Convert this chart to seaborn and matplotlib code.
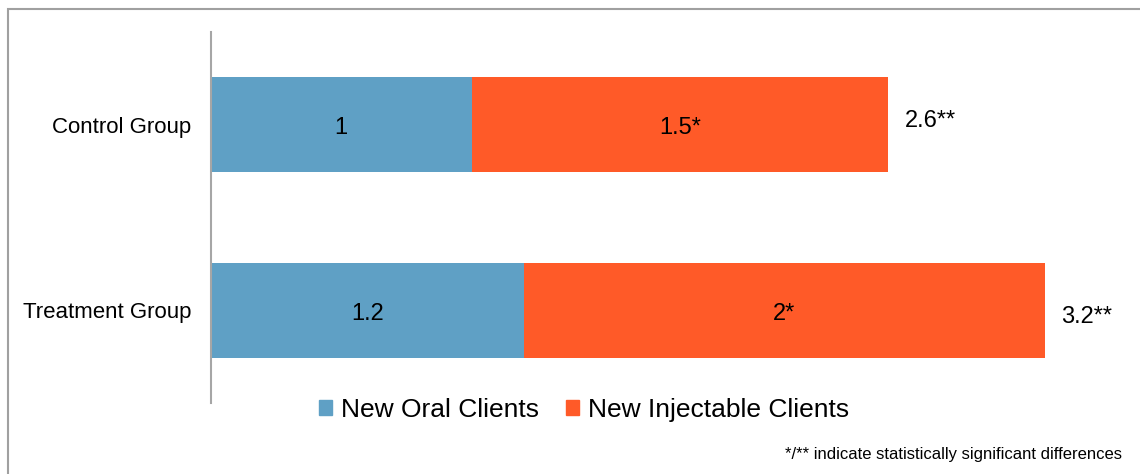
import pandas as pd
import seaborn as sns
import matplotlib.pyplot as plt
from matplotlib.patches import Rectangle, Patch

groups = ['Control Group', 'Treatment Group']
oral = [1.0, 1.2]
injectable = [1.6, 2.0]
oral_labels = ['1', '1.2']
inj_labels = ['1.5*', '2*']
total_labels = ['2.6**', '3.2**']

blue = '#5FA0C5'
orange = '#FF5A28'

sns.set_style('white')
plt.rcParams['font.family'] = ['Liberation Sans', 'DejaVu Sans']
plt.rcParams['text.color'] = 'black'
plt.rcParams['ytick.color'] = 'black'

df = pd.DataFrame({'group': groups, 'oral': oral, 'injectable': injectable})
df['total'] = df['oral'] + df['injectable']

fig = plt.figure(figsize=(11.4, 4.74), dpi=100)
ax = fig.add_axes([211 / 1140, 1 - 403 / 474, 889 / 1140, 371 / 474])

sns.barplot(data=df, x='total', y='group', color=orange, width=0.51,
            orient='h', ax=ax, saturation=1, linewidth=0)
sns.barplot(data=df, x='oral', y='group', color=blue, width=0.51,
            orient='h', ax=ax, saturation=1, linewidth=0)

# the outside totals sit a little off-centre in the original
total_shift = [-3, 5]
for i in range(len(groups)):
    ax.text(oral[i] / 2, i + 0.02, oral_labels[i], ha='center', va='center', fontsize=17)
    ax.text(oral[i] + injectable[i] / 2, i + 0.02, inj_labels[i], ha='center', va='center', fontsize=17)
    ax.annotate(total_labels[i], (oral[i] + injectable[i], i), xytext=(12, -total_shift[i]),
                textcoords='offset points', ha='left', va='center', fontsize=17)

ax.set_xlim(0, 889 / 260.5)
ax.set_ylim(1.5, -0.5)
ax.set_xlabel('')
ax.set_ylabel('')
ax.set_xticks([])
ax.tick_params(axis='y', length=0, pad=14, labelsize=16)
for s in ['top', 'right', 'bottom']:
    ax.spines[s].set_visible(False)
ax.spines['left'].set_color('#A6A6A6')
ax.spines['left'].set_linewidth(1.5)

handles = [Patch(color=blue, label='New Oral Clients'),
           Patch(color=orange, label='New Injectable Clients')]
fig.legend(handles=handles, loc='center', bbox_to_anchor=(584 / 1140, 1 - 410 / 474),
           ncol=2, frameon=False, fontsize=19, handlelength=0.5, handleheight=0.5,
           handletextpad=0.35, columnspacing=1.0)

fig.text(1122 / 1140, 1 - 455 / 474, '*/** indicate statistically significant differences',
         ha='right', va='center', fontsize=12)

fig.patches.append(Rectangle((8 / 1140, -0.1), 1.2, 1 - 9 / 474 + 0.1,
                             transform=fig.transFigure, fill=False,
                             edgecolor='#A0A0A0', linewidth=1.5))

fig.savefig('out.png', dpi=100)
